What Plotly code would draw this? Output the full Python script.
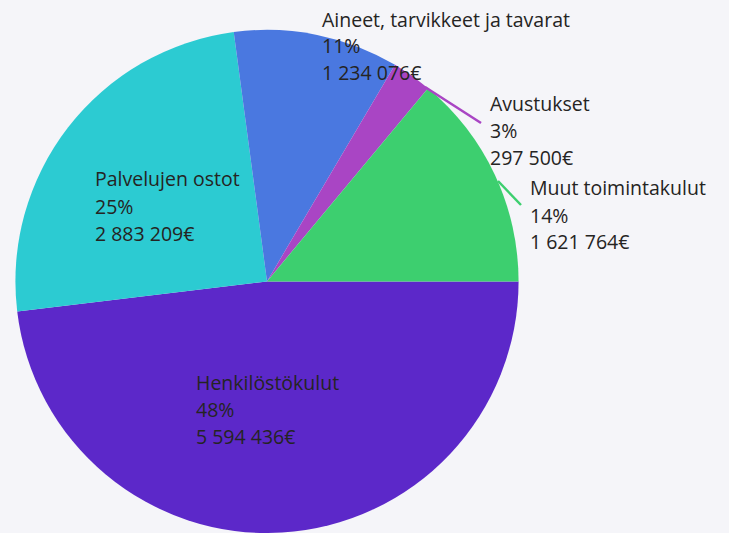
import plotly.graph_objects as go

categories = ["Henkilöstökulut", "Palvelujen ostot", "Aineet, tarvikkeet ja tavarat",
              "Avustukset", "Muut toimintakulut"]
values = [5594436, 2883209, 1234076, 297500, 1621764]
colors = ["#5C28C9", "#2CCBD2", "#4A78E0", "#A945C4", "#3DCF6F"]

W, H = 729, 533
BG = "#F5F5F9"
TXT = "#252423"
FONT = "Segoe UI, Open Sans, sans-serif"


def fmt_eur(v):
    return f"{v:,}".replace(",", " ") + "€"


total = sum(values)

# label block positions in pixels (left x, first line centre y)
label_pos = [(194, 382), (93, 179), (320, 19), (488, 103), (528, 188)]
line_gap = 27

fig = go.Figure(go.Pie(
    labels=categories,
    values=values,
    marker=dict(colors=colors, line=dict(width=0)),
    sort=False,
    direction="clockwise",
    rotation=90,
    textinfo="none",
    hoverinfo="label+percent+value",
    showlegend=False,
    domain=dict(x=[0.0211, 0.7114], y=[0.0, 0.944]),
))

annotations = []
for cat, val, (px, py) in zip(categories, values, label_pos):
    lines = [cat, f"{round(val / total * 100)}%", fmt_eur(val)]
    for i, t in enumerate(lines):
        annotations.append(dict(
            x=px / W, y=1 - (py + i * line_gap) / H,
            xref="paper", yref="paper", xanchor="left", yanchor="middle",
            text=t, showarrow=False, align="left",
            font=dict(family=FONT, size=19.5, color=TXT),
        ))

# leader lines for the small outside labels
leaders = [((425, 87), (481, 123), colors[3]), ((498, 181), (521, 205), colors[4])]
shapes = [dict(type="line", xref="paper", yref="paper",
               x0=a[0] / W, y0=1 - a[1] / H, x1=b[0] / W, y1=1 - b[1] / H,
               line=dict(color=c, width=2.5))
          for a, b, c in leaders]

fig.update_layout(
    width=W, height=H,
    margin=dict(l=0, r=0, t=0, b=0),
    paper_bgcolor=BG, plot_bgcolor=BG,
    annotations=annotations,
    shapes=shapes,
)

fig.write_html(
    "out.html",
    config={"displayModeBar": False},
    post_script="document.body.style.margin='0';document.body.style.overflow='hidden';",
)
